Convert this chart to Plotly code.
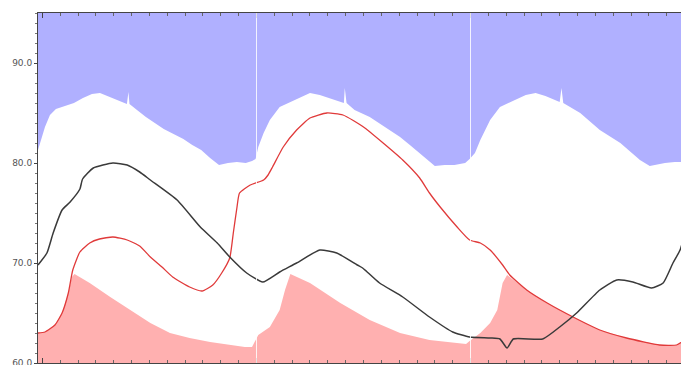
import plotly.graph_objects as go

# ---- data (x in hours, y in degrees) ----
upper_hours = [-0.5, 0.28, 0.84, 1.51, 2.52, 3.53, 4.54, 5.55, 6.45, 7.57, 8.58, 9.47, 9.64, 9.76,
               10.6, 11.6, 12.6, 13.6, 14.7, 15.8, 16.8, 17.8, 18.8, 19.8, 20.8, 21.8, 22.8, 23.5,
               23.9, 24.2, 24.8, 25.5, 26.6, 28.3, 30.0, 31.1, 33.4, 33.8, 33.9, 34.1, 35.0, 36.7,
               38.4, 40.1, 41.2, 42.3, 44.0, 45.1, 46.2, 47.4, 47.9,
               48.5, 49.1, 50.2, 51.3, 52.5, 54.2, 55.3, 56.4, 58.0, 58.2, 58.4, 60.3, 62.5, 64.8,
               67.0, 68.1, 69.8, 70.9, 72.5]
upper_vals = [81.3, 83.6, 84.8, 85.4, 85.7, 86.0, 86.5, 86.9, 87.0, 86.6, 86.2, 85.9, 87.1, 85.9,
              85.3, 84.6, 84.0, 83.4, 82.9, 82.4, 81.8, 81.3, 80.5, 79.8, 80.0, 80.1, 80.0, 80.2,
              80.4, 81.6, 83.0, 84.3, 85.6, 86.3, 87.0, 86.8, 86.1, 86.0, 87.5, 86.0, 85.3, 84.6,
              83.6, 82.6, 81.8, 81.0, 79.7, 79.8, 79.8, 80.0, 80.4,
              81.0, 82.3, 84.3, 85.6, 86.1, 86.8, 87.0, 86.7, 86.1, 87.5, 86.0, 85.0, 83.3, 82.0,
              80.3, 79.7, 80.0, 80.1, 80.1]

lower_hours = [-0.5, 0.28, 1.4, 2.2, 2.9, 3.3, 3.6, 5.3, 7.6, 9.8, 12.1, 14.3, 16.5, 18.8, 21.0,
               22.7, 23.5, 24.2, 25.5, 26.6, 27.2, 27.8, 30.0, 33.4, 36.7, 40.1, 43.4, 46.8, 47.5,
               47.9, 49.1, 50.2, 51.0, 51.6, 52.1, 54.3, 56.6, 59.5, 62.5, 65.5, 69.2, 71.1, 72.5]
lower_vals = [63.0, 63.1, 63.8, 65.0, 67.0, 68.6, 68.9, 68.0, 66.6, 65.3, 64.0, 63.0, 62.5, 62.1, 61.8,
              61.6, 61.6, 62.8, 63.6, 65.3, 67.3, 68.9, 68.0, 66.0, 64.3, 63.0, 62.3, 62.0, 61.9,
              62.2, 63.0, 64.0, 65.3, 68.0, 68.8, 67.3, 66.0, 64.6, 63.3, 62.5, 61.8, 61.8, 62.6]

red_hours = [-0.5, 0.28, 1.4, 2.2, 2.9, 3.4, 4.2, 5.3, 6.4, 7.9, 9.5, 10.9, 12.1, 13.4, 14.6, 16.5,
             17.9, 19.1, 20.1, 21.0, 21.4, 21.8, 22.1, 23.3, 24.8, 25.3, 25.8, 27.0, 28.5, 30.0,
             31.9, 33.7, 36.0, 38.2, 40.4, 42.3, 43.4, 44.6, 46.5, 47.9, 49.1, 50.2, 51.6, 52.4,
             54.3, 56.6, 59.5, 62.5, 65.5, 69.2, 71.1, 72.5]
red_vals = [63.0, 63.1, 63.8, 65.0, 67.0, 69.3, 71.1, 72.0, 72.4, 72.6, 72.3, 71.7, 70.6, 69.6, 68.6, 67.6,
            67.2, 67.8, 69.0, 70.5, 73.0, 75.5, 77.0, 77.8, 78.3, 78.8, 79.6, 81.6, 83.3, 84.5,
            85.0, 84.8, 83.6, 82.0, 80.3, 78.5, 77.0, 75.6, 73.6, 72.3, 72.0, 71.3, 69.8, 68.8,
            67.3, 66.0, 64.6, 63.3, 62.5, 61.8, 61.8, 62.6]

black_hours = [-0.5, 0.5, 1.2, 2.2, 3.1, 4.2, 4.5, 5.7, 7.9, 9.5, 10.9, 12.1, 15.1, 17.7, 19.6, 21.0,
               22.9, 24.7, 26.6, 28.5, 31.1, 33.0, 35.3, 35.9, 36.3, 37.8, 40.4, 43.4, 46.0, 47.9,
               50.2, 51.3, 52.1, 52.8, 56.1, 58.0, 59.9, 62.5, 64.4, 66.2, 68.3, 69.6, 70.7, 71.5,
               72.0, 72.5]
black_vals = [69.8, 71.0, 73.0, 75.3, 76.1, 77.4, 78.4, 79.5, 80.0, 79.8, 79.1, 78.3, 76.3, 73.6, 72.0, 70.6,
              69.0, 68.1, 69.1, 70.0, 71.3, 71.0, 69.8, 69.5, 69.2, 68.0, 66.6, 64.6, 63.1, 62.6,
              62.5, 62.4, 61.5, 62.4, 62.4, 63.6, 65.0, 67.3, 68.3, 68.1, 67.5, 68.0, 70.0, 71.3,
              73.0, 75.8]

grid_hours = [24, 48, 72]
x_range = [-0.5, 72.5]
y_range = [60, 95]

BLUE = "#b0b0ff"
PINK = "#ffb0b0"

fig = go.Figure()
# blue band: from upper envelope to top of chart
fig.add_trace(go.Scatter(x=upper_hours, y=upper_vals, mode="lines", line=dict(width=0),
                         showlegend=False, hoverinfo="skip"))
fig.add_trace(go.Scatter(x=upper_hours, y=[y_range[1]] * len(upper_hours), mode="lines",
                         line=dict(width=0), fill="tonexty", fillcolor=BLUE,
                         showlegend=False, hoverinfo="skip"))
# pink band: from bottom to lower envelope
fig.add_trace(go.Scatter(x=lower_hours, y=lower_vals, mode="lines", line=dict(width=0),
                         fill="tozeroy", fillcolor=PINK, showlegend=False, hoverinfo="skip"))
fig.add_trace(go.Scatter(x=red_hours, y=red_vals, mode="lines",
                         line=dict(color="#e03a3a", width=1.3, shape="spline", smoothing=0.5),
                         showlegend=False))
fig.add_trace(go.Scatter(x=black_hours, y=black_vals, mode="lines",
                         line=dict(color="#3a3a3a", width=1.5, shape="spline", smoothing=0.5),
                         showlegend=False))

shapes = [dict(type="line", xref="x", yref="paper", x0=g, x1=g, y0=0, y1=1,
               line=dict(color="rgba(255,255,255,0.85)", width=1), layer="above")
          for g in grid_hours]

# page body has an 8px default margin, so the figure is sized to fit the window
fig.update_layout(
    width=681, height=357,
    margin=dict(l=30, r=0, t=5, b=2),
    paper_bgcolor="white", plot_bgcolor="white",
    shapes=shapes,
    xaxis=dict(range=x_range, showgrid=False, zeroline=False, showticklabels=False,
               automargin=False,
               showline=True, linecolor="#444", linewidth=1, mirror="ticks",
               ticks="inside", tick0=0, dtick=24, ticklen=5, tickcolor="#444",
               minor=dict(dtick=2, ticks="inside", ticklen=3, tickcolor="#666", showgrid=False),
               layer="above traces"),
    yaxis=dict(range=y_range, showgrid=False, zeroline=False, automargin=False,
               showline=True, linecolor="#444", linewidth=1,
               ticks="outside", tick0=60, dtick=10, ticklen=3, tickcolor="#444",
               tickformat=".1f", tickfont=dict(size=9, color="#555", family="DejaVu Sans"),
               ticklabeloverflow="allow",
               minor=dict(dtick=1, ticks="outside", ticklen=2, tickcolor="#777", showgrid=False),
               layer="above traces"),
)

fig.write_html("out.html")
